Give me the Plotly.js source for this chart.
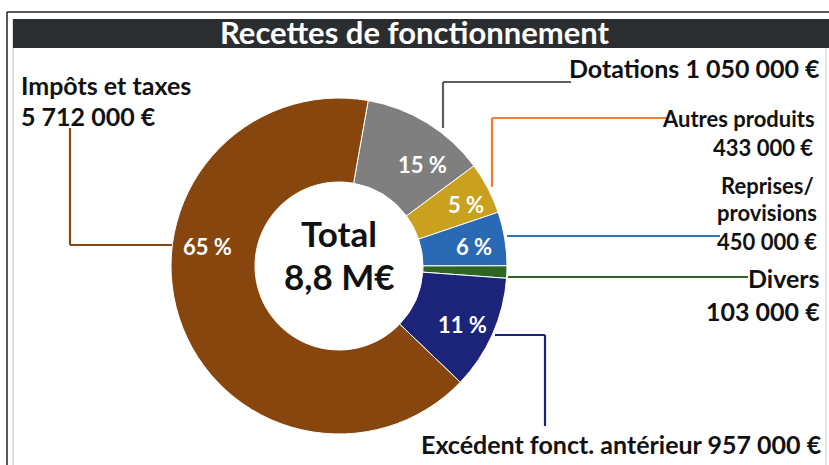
<!DOCTYPE html>
<html>
<head>
<meta charset="utf-8">
<script src="https://cdn.plot.ly/plotly-3.0.1.min.js"></script>
<style>html,body{margin:0;padding:0;background:#fff;}#chart{width:829px;height:465px;}</style>
</head>
<body>
<div id="chart"></div>
<script>
// ---- data ----
var categories = ["Dotations", "Autres produits", "Reprises/provisions", "Divers", "Excédent fonct. antérieur", "Impôts et taxes"];
var amounts = [1050000, 433000, 450000, 103000, 957000, 5712000];
var amountLabels = ["1 050 000 €", "433 000 €", "450 000 €", "103 000 €", "957 000 €", "5 712 000 €"];
var pctLabels = ["15 %", "5 %", "6 %", "", "11 %", "65 %"];
var titleText = "Recettes de fonctionnement";
var centerText = ["Total", "8,8 M€"];
var colors = ["#7f7f7f", "#c9a11f", "#2a69b4", "#2f6522", "#1b2479", "#88460f"];
var lineColors = ["#5f5f5f", "#ee7d33", "#2e75b6", "#2f6522", "#1b2479", "#88460f"];

var W = 829, H = 465;
function fx(px) { return px / W; }
function fy(py) { return 1 - py / H; }

var cx = 339, cy = 266, R = 168;
var FONT = "Lato, 'Open Sans', sans-serif";

var trace = {
  type: "pie",
  labels: categories,
  values: amounts,
  textinfo: "none",
  sort: false,
  direction: "clockwise",
  rotation: 10,
  hole: 0.5,
  marker: { colors: colors, line: { color: "#ffffff", width: 1 } },
  domain: { x: [fx(cx - R), fx(cx + R)], y: [fy(cy + R), fy(cy - R)] },
  showlegend: false,
  hoverinfo: "label+value"
};

function line(x0, y0, x1, y1, c, w) {
  return { type: "line", xref: "paper", yref: "paper", x0: fx(x0), y0: fy(y0), x1: fx(x1), y1: fy(y1),
           line: { color: c, width: w || 2.2 } };
}

var shapes = [
  // frame
  { type: "line", xref: "paper", yref: "paper", x0: fx(7), y0: fy(12), x1: fx(7), y1: fy(470), line: { color: "#222", width: 1.5 } },
  { type: "line", xref: "paper", yref: "paper", x0: fx(7), y0: fy(12), x1: fx(835), y1: fy(12), line: { color: "#222", width: 1.5 } },
  { type: "line", xref: "paper", yref: "paper", x0: fx(13), y0: fy(19), x1: fx(13), y1: fy(470), line: { color: "#b8bcc8", width: 1 } },
  { type: "line", xref: "paper", yref: "paper", x0: fx(826), y0: fy(19), x1: fx(826), y1: fy(470), line: { color: "#c8c8c8", width: 1 } },
  // title bar
  { type: "rect", xref: "paper", yref: "paper", x0: fx(13), y0: fy(48), x1: fx(829), y1: fy(19), fillcolor: "#2b2e30", line: { width: 0 } },
  // leader lines
  line(443, 128, 443, 82, lineColors[0]), line(443, 82, 571, 82, lineColors[0]),
  line(492, 187, 492, 118, lineColors[1]), line(492, 118, 668, 118, lineColors[1]),
  line(507, 236, 720, 236, lineColors[2]),
  line(508, 277, 748, 277, lineColors[3]),
  line(495, 335, 545, 335, lineColors[4]), line(545, 335, 545, 426, lineColors[4]),
  line(172, 245, 70, 245, lineColors[5]), line(70, 245, 70, 128, lineColors[5])
];

function ann(text, x, y, xanchor, size, color) {
  return { text: text, xref: "paper", yref: "paper", x: fx(x), y: fy(y), xanchor: xanchor, yanchor: "middle",
           showarrow: false, align: xanchor === "right" ? "right" : (xanchor === "center" ? "center" : "left"),
           font: { family: FONT, size: size || 25, color: color || "#111", weight: "bold" } };
}

// percentage label anchor points inside the ring (pixel positions)
var pctPos = [[422, 164], [466, 204], [474, 247], [0, 0], [463, 324], [207, 247]];

var annotations = [
  ann(categories[0] + " " + amountLabels[0], 822, 68, "right"),
  ann(categories[1], 817, 118, "right", 22),
  ann(amountLabels[1], 815, 147, "right", 22),
  ann("Reprises/", 767, 185, "center", 22),
  ann("provisions", 767, 213, "center", 22),
  ann(amountLabels[2], 767, 241, "center", 22),
  ann(categories[3], 822, 278, "right"),
  ann(amountLabels[3], 822, 311, "right"),
  ann(categories[4] + " " + amountLabels[4], 824, 444, "right"),
  ann(categories[5], 19, 85, "left"),
  ann(amountLabels[5], 19, 116, "left"),
  ann(centerText[0], cx, 233, "center", 35),
  ann(centerText[1], cx, 276, "center", 35)
];
pctLabels.forEach(function (t, i) {
  if (t) annotations.push(ann(t, pctPos[i][0], pctPos[i][1], "center", 22, "#ffffff"));
});

var layout = {
  width: W, height: H,
  margin: { l: 0, r: 0, t: 0, b: 0 },
  paper_bgcolor: "#ffffff",
  title: { text: titleText, x: 0.5, xanchor: "center", y: fy(33), yanchor: "middle", yref: "container",
           font: { family: FONT, size: 31, color: "#ffffff", weight: "bold" } },
  shapes: shapes,
  annotations: annotations,
  showlegend: false
};

Plotly.newPlot("chart", [trace], layout, { displayModeBar: false, staticPlot: true });
</script>
</body>
</html>
